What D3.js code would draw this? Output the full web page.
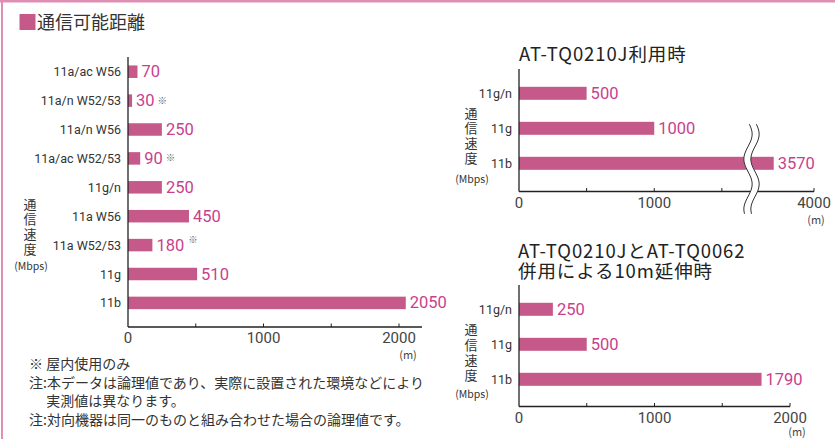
<!DOCTYPE html>
<html><head><meta charset="utf-8">
<script src="https://cdn.jsdelivr.net/npm/d3@7/dist/d3.min.js"></script>
<style>
body{margin:0;background:#fff;}
svg{display:block;}
</style></head>
<body>
<svg id="c" width="835" height="439"></svg>
<script>
// ---- data ----
const mainCats = ["11a/ac W56","11a/n W52/53","11a/n W56","11a/ac W52/53","11g/n","11a W56","11a W52/53","11g","11b"];
const mainVals = [70,30,250,90,250,450,180,510,2050];
const mainIndoor = [false,true,false,true,false,false,true,false,false];
const mainTicks = [0,1000,2000];
const mainMinor = [500,1000,1500,2000];

const c1Cats = ["11g/n","11g","11b"];
const c1Vals = [500,1000,3570];
const c1Ticks = [0,1000,4000];
const c1Minor = [500,1000,1500,4000];

const c2Cats = ["11g/n","11g","11b"];
const c2Vals = [250,500,1790];
const c2Ticks = [0,1000,2000];
const c2Minor = [500,1000,1500,2000];

const titleText = "通信可能距離";
const c1Title = ["AT-TQ0210J利用時"];
const c2Title = ["AT-TQ0210JとAT-TQ0062","併用による10m延伸時"];
const yLabelText = "通信速度";
const yUnit = "(Mbps)";
const xUnit = "(m)";
const notes = ["※ 屋内使用のみ","注:本データは論理値であり、実際に設置された環境などにより","　 実測値は異なります。","注:対向機器は同一のものと組み合わせた場合の論理値です。"];

// ---- style ----
const BAR = "#c55a8a", VAL = "#c93f8e", TXT = "#333", FRAME = "#de8fb3";
const JP = "'Noto Sans CJK JP', sans-serif";
const LAT = "Roboto, 'Noto Sans', sans-serif";

const svg = d3.select("#c");

// frame
svg.append("rect").attr("x",0).attr("y",0).attr("width",835).attr("height",2.5).attr("fill",FRAME);
svg.append("rect").attr("x",1).attr("y",0).attr("width",2).attr("height",439).attr("fill",FRAME);

// title
svg.append("rect").attr("x",19.5).attr("y",14).attr("width",16).attr("height",16).attr("fill",BAR);
svg.append("text").attr("x",37).attr("y",29).attr("font-family",JP).attr("font-size",18)
  .attr("fill",TXT).text(titleText);

function yLabel(cx, yTop, step, unitY){
  const g = svg.append("g");
  g.append("text").attr("x",cx).attr("y",yTop)
   .style("writing-mode","vertical-rl").style("text-orientation","upright")
   .attr("font-family",JP).attr("font-size",13).attr("letter-spacing", step-13)
   .attr("fill",TXT).text(yLabelText);
  g.append("text").attr("x",cx+1).attr("y",unitY).attr("text-anchor","middle")
   .attr("dominant-baseline","central").attr("font-family",JP).attr("font-size",10.5)
   .attr("fill",TXT).text(yUnit);
}

function chart(opt){
  const {cats, vals, x, yTop, axisY, y0, step, barH, ticks, minor, catRight, marks, unitX, unitY} = opt;
  const g = svg.append("g");
  const y = d3.scaleBand().domain(cats).range([y0 - step/2, y0 - step/2 + step*cats.length]).paddingInner(0).paddingOuter(0);
  // bars
  g.selectAll("rect.bar").data(cats).join("rect").attr("class","bar")
    .attr("x", x(0)).attr("y", d => y(d) + (step-barH)/2)
    .attr("width", (d,i) => x(vals[i]) - x(0)).attr("height", barH).attr("fill", BAR);
  // value labels
  g.selectAll("text.val").data(cats).join("text").attr("class","val")
    .attr("x", (d,i) => x(vals[i]) + 4).attr("y", d => y(d) + step/2)
    .attr("dominant-baseline","central").attr("font-family",LAT).attr("font-size",16.5)
    .attr("fill",VAL).text((d,i)=>vals[i]);
  // indoor marks
  if (marks){
    g.selectAll("text.val").each(function(d,i){
      if(!marks[i]) return;
      const bb = this.getBBox();
      const raised = vals[i] > 150;
      d3.select(this.parentNode).append("text")
        .attr("x", bb.x + bb.width + (raised?4:3)).attr("y", y(d) + step/2 + (raised?-6:-1))
        .attr("dominant-baseline","central").attr("font-family",JP).attr("font-size",9.5)
        .attr("fill","#666").text("※");
    });
  }
  // category labels
  g.selectAll("text.cat").data(cats).join("text").attr("class","cat")
    .attr("x", catRight).attr("y", d => y(d) + step/2).attr("text-anchor","end")
    .attr("dominant-baseline","central").attr("font-family",LAT).attr("font-size",12.5)
    .attr("fill",TXT).text(d=>d);
  // axes lines
  const r = x.range();
  g.append("line").attr("x1",x(0)).attr("x2",x(0)).attr("y1",yTop).attr("y2",axisY)
    .attr("stroke","#222").attr("stroke-width",1.3);
  g.append("line").attr("x1",x(0)).attr("x2",r[r.length-1]+opt.extra).attr("y1",axisY).attr("y2",axisY)
    .attr("stroke","#222").attr("stroke-width",1.3);
  g.selectAll("line.tk").data(minor).join("line").attr("class","tk")
    .attr("x1",d=>x(d)).attr("x2",d=>x(d)).attr("y1",axisY).attr("y2",axisY-3.5)
    .attr("stroke","#222").attr("stroke-width",1);
  g.selectAll("text.tl").data(ticks).join("text").attr("class","tl")
    .attr("x",d=>x(d)).attr("y",axisY+11).attr("text-anchor","middle")
    .attr("dominant-baseline","central").attr("font-family",LAT).attr("font-size",15)
    .attr("fill","#444").text(d=>d);
  g.append("text").attr("x",unitX).attr("y",unitY).attr("text-anchor","middle")
    .attr("dominant-baseline","central").attr("font-family",JP).attr("font-size",11)
    .attr("fill","#444").text(xUnit);
  return g;
}

// main chart
const xMain = d3.scaleLinear().domain([0,2000]).range([128,399]);
chart({cats:mainCats, vals:mainVals, x:xMain, yTop:57, axisY:327, y0:71.7, step:28.9, barH:12.5,
  ticks:mainTicks, minor:mainMinor, catRight:121, marks:mainIndoor, unitX:408, unitY:354, extra:23});
yLabel(30, 198, 14.7, 265);

// chart 1 (broken axis)
const x1 = d3.scaleLinear().domain([0,1745,3370,4000]).range([519,755,755,814]);
svg.append("text").attr("x",519).attr("y",61).attr("font-family",JP).attr("font-size",18.5)
  .attr("letter-spacing",0.9).attr("fill","#222").text(c1Title[0]);
chart({cats:c1Cats, vals:c1Vals, x:x1, yTop:69, axisY:191.5, y0:93.3, step:35, barH:13,
  ticks:c1Ticks, minor:c1Minor, catRight:512, unitX:816, unitY:219, extra:0});
yLabel(471, 107, 15, 178);

// break symbol
(function(){
  const cx = 751.5, yA = 124, yB = 214;
  const pts = d3.range(yA, yB+0.1, 2).map(yy => [cx + 4.2*Math.sin((yy - yA)/50*2*Math.PI + 0.3), yy]);
  const line = d3.line().curve(d3.curveBasis);
  const L = pts.map(p=>[p[0]-3.5,p[1]]), R = pts.map(p=>[p[0]+3.5,p[1]]);
  svg.append("path").attr("d", line(pts)).attr("fill","none").attr("stroke","#fff").attr("stroke-width",7);
  svg.append("path").attr("d", line(L)).attr("fill","none").attr("stroke","#333").attr("stroke-width",1);
  svg.append("path").attr("d", line(R)).attr("fill","none").attr("stroke","#333").attr("stroke-width",1);
})();

// chart 2
const x2 = d3.scaleLinear().domain([0,2000]).range([519,790]);
c2Title.forEach((t,i)=>{
  svg.append("text").attr("x",518).attr("y",258 + i*20).attr("font-family",JP).attr("font-size",18.5)
    .attr("letter-spacing",0.9).attr("fill","#222").text(t);
});
chart({cats:c2Cats, vals:c2Vals, x:x2, yTop:285, axisY:406.5, y0:309.3, step:35, barH:13,
  ticks:c2Ticks, minor:c2Minor, catRight:512, unitX:797, unitY:430.5, extra:0});
yLabel(471, 323, 15.3, 393);

// notes
const noteY = [363, 382, 400, 419];
notes.forEach((t,i)=>{
  svg.append("text").attr("x", 29).attr("y", noteY[i]).attr("dominant-baseline","central")
    .attr("font-family",JP).attr("font-size",14).attr("fill",TXT).attr("xml:space","preserve").text(t);
});
</script>
</body></html>
